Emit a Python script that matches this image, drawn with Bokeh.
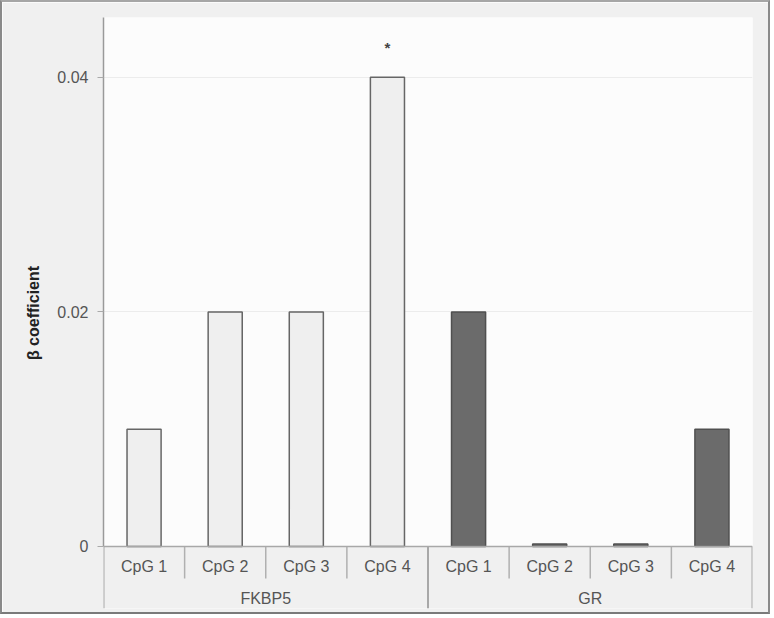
from bokeh.plotting import figure
from bokeh.models import (Range1d, FixedTicker, ColumnDataSource,
                          BoxAnnotation, Span)
from bokeh.core.properties import value
from bokeh.embed import file_html
from bokeh.resources import INLINE

# ---- data ----
genes = ["FKBP5", "GR"]
sites = ["CpG 1", "CpG 2", "CpG 3", "CpG 4"]
fkbp5_beta = [0.01, 0.02, 0.02, 0.04]
gr_beta = [0.02, 0.0002, 0.0002, 0.01]
significant = [("FKBP5", "CpG 4")]
y_ticks = [0, 0.02, 0.04]
y_tick_labels = ["0", "0.02", "0.04"]
y_title = "β coefficient"

FONT = "Liberation Sans"
LIGHT = "#efefef"
DARK = "#6b6b6b"

factors = [(g, s) for g in genes for s in sites]
n = len(factors)
xc = [i + 0.5 for i in range(n)]          # category centres on the x scale
values = fkbp5_beta + gr_beta
fills = [LIGHT] * len(fkbp5_beta) + [DARK] * len(gr_beta)
lines = ["#666666"] * len(fkbp5_beta) + ["#505050"] * len(gr_beta)

Y_BOTTOM, Y_TOP = -0.00529, 0.0451
ROW1, ROW2 = -0.00175, -0.00440
SEP_SHORT, SEP_LONG = -0.00273, Y_BOTTOM

p = figure(width=770, height=614, output_backend="svg", toolbar_location=None,
           x_range=Range1d(0, n), y_range=Range1d(Y_BOTTOM, Y_TOP),
           x_axis_location=None,
           min_border_left=101, min_border_right=20, min_border_top=15,
           min_border_bottom=8)
p.styles = {"border-top": "2px solid #a6a6a6", "border-left": "2px solid #8a8a8a",
            "border-right": "2px solid #8a8a8a", "border-bottom": "2px solid #7a7a7a"}

p.background_fill_color = "#fcfcfc"
p.border_fill_color = "#f0f0f0"
p.outline_line_color = None

# grey band below zero (category-label area)
p.add_layout(BoxAnnotation(top=0, fill_color="#f0f0f0", fill_alpha=1,
                           line_alpha=0, level="underlay"))

# grid
p.xgrid.visible = False
p.ygrid.ticker = FixedTicker(ticks=y_ticks)
p.ygrid.grid_line_color = "#ececec"
p.ygrid.grid_line_width = 1

# y axis
ax = p.yaxis[0]
ax.bounds = (0, Y_TOP)
ax.ticker = FixedTicker(ticks=y_ticks)
ax.major_label_overrides = {t: l for t, l in zip(y_ticks, y_tick_labels)}
ax.minor_tick_line_color = None
ax.major_tick_in = 0
ax.major_tick_out = 6
ax.major_tick_line_color = "#aaaaaa"
ax.axis_line_color = "#9a9a9a"
ax.axis_line_width = 1.5
ax.major_label_text_font = FONT
ax.major_label_text_font_size = "16px"
ax.major_label_text_color = "#555555"
ax.major_label_standoff = 9
ax.axis_label = y_title
ax.axis_label_text_font = FONT
ax.axis_label_text_font_style = "bold"
ax.axis_label_text_font_size = "16px"
ax.axis_label_text_color = "#222222"
ax.axis_label_standoff = 12

# bars
src = ColumnDataSource(dict(x=xc, top=values, fill=fills, line=lines))
p.vbar(x="x", top="top", width=0.42, source=src, fill_color="fill",
       line_color="line", line_width=1.5)

# significance marker
star_x = [xc[factors.index(f)] for f in significant]
star_y = [values[factors.index(f)] + 0.0025 for f in significant]
p.text(x=star_x, y=star_y, text=["*"] * len(star_x), text_align="center",
       text_baseline="alphabetic", text_font=value(FONT),
       text_font_style="bold", text_font_size="15px", text_color="#444444")

# baseline
p.add_layout(Span(location=0, dimension="width", line_color="#a8a8a8",
                  line_width=1.5))

# separators
short_x = [i for i in range(1, n) if i % len(sites) != 0]
long_x = [i for i in range(0, n + 1, len(sites))]
p.segment(x0=short_x, y0=[0] * len(short_x), x1=short_x,
          y1=[SEP_SHORT] * len(short_x),
          line_color="#b0b0b0", line_width=1.5)
p.segment(x0=long_x, y0=[0] * len(long_x), x1=long_x,
          y1=[SEP_LONG] * len(long_x),
          line_color="#a8a8a8", line_width=2)

# category labels
p.text(x=xc, y=[ROW1] * n, text=[f[1] for f in factors],
       text_align="center", text_baseline="middle", text_font=value(FONT),
       text_font_size="16px", text_color="#555555")
group_x = [(i + 0.5) * len(sites) for i in range(len(genes))]
p.text(x=group_x, y=[ROW2] * len(genes), text=genes,
       text_align="center", text_baseline="middle", text_font=value(FONT),
       text_font_size="16px", text_color="#555555")

open("out.html", "w").write(file_html(p, INLINE))
